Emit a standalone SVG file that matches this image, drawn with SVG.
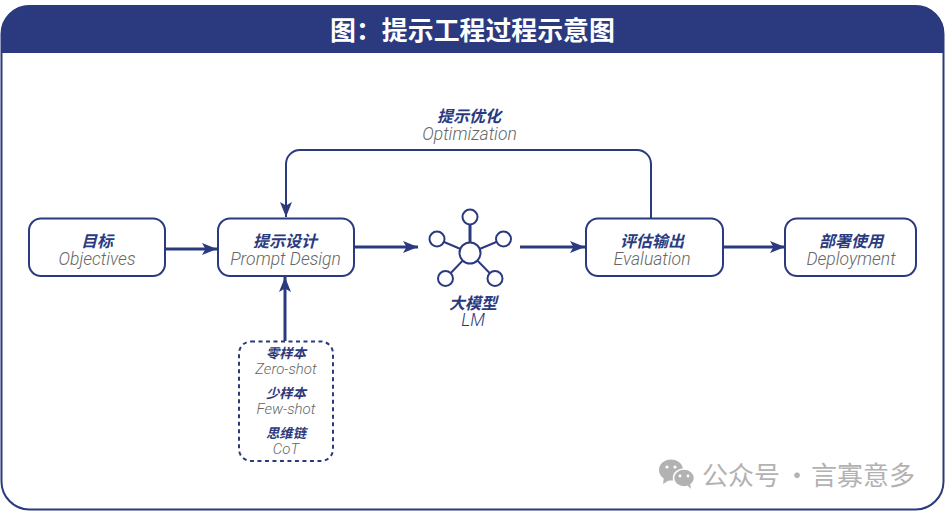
<svg xmlns="http://www.w3.org/2000/svg" width="946" height="513" viewBox="0 0 946 513">
<style>
.box{fill:#fff;stroke:#2b3a7e;stroke-width:2}
.zh{font-family:"Noto Sans CJK SC","Noto Sans CJK JP",sans-serif;font-weight:700;font-style:italic;fill:#2b3a7e;text-anchor:middle}
.en{font-family:Roboto,"Liberation Sans",sans-serif;font-weight:300;font-style:italic;fill:#666;text-anchor:middle}
.z1{font-size:16px}.e1{font-size:17.500px}.z2{font-size:13.300px}.e2{font-size:15px}
.line{fill:none;stroke:#2b3a7e}
.n{fill:#fff;stroke:#2b3a7e;stroke-width:2}
.wm{font-family:"Noto Sans CJK SC",sans-serif;font-size:26px;fill:#b2b2b2}
</style>
<defs>
<marker id="a" markerUnits="userSpaceOnUse" markerWidth="16" markerHeight="16" refX="15" refY="8" orient="auto"><path d="M0 2L15 8L0 14L3.500 8Z" fill="#2b3a7e"/></marker>
</defs>
<rect width="946" height="513" fill="#fff"/>
<g id="frame">
<rect x="1.500" y="6" width="942" height="503.500" rx="28" fill="#fff" stroke="#2b3a7e" stroke-width="2"/>
<path d="M1 53V34A28 28 0 0 1 29 5.500H916A28 28 0 0 1 944 34V53Z" fill="#2b3a7e"/>
<text x="472.500" y="40" text-anchor="middle" font-family="'Noto Sans CJK SC',sans-serif" font-weight="700" font-size="25.900" fill="#fff">图：提示工程过程示意图</text>
</g>
<g id="connectors">
<path class="line" stroke-width="3" marker-end="url(#a)" d="M165 249H217"/>
<path class="line" stroke-width="3" marker-end="url(#a)" d="M354 247H418"/>
<path class="line" stroke-width="3" marker-end="url(#a)" d="M520 247H585"/>
<path class="line" stroke-width="3" marker-end="url(#a)" d="M723 247H785"/>
<path class="line" stroke-width="3" marker-end="url(#a)" d="M285 341V277"/>
<path class="line" stroke-width="2" marker-end="url(#a)" d="M651 218V164A14 14 0 0 0 637 150H300A14 14 0 0 0 286 164V217"/>
</g>
<g id="label-optimization">
<text class="zh z1" x="469" y="122">提示优化</text>
<text class="en e1" x="469.500" y="140">Optimization</text>
</g>
<g id="node-objectives">
<rect class="box" x="29" y="218.500" width="136" height="57.500" rx="12"/>
<text class="zh z1" x="97" y="246.500">目标</text>
<text class="en e1" x="97" y="264.500">Objectives</text>
</g>
<g id="node-prompt">
<rect class="box" x="218" y="218.500" width="136" height="57.500" rx="12"/>
<text class="zh z1" x="285" y="246.500">提示设计</text>
<text class="en e1" x="285.500" y="264.500">Prompt Design</text>
</g>
<g id="node-llm">
<path class="line" stroke-width="2" d="M470 217V253M437 239L470 253M503.500 239L470 253M445.500 278.500L470 253M495 278.500L470 253"/>
<path class="line" stroke-width="3" d="M470 225V242"/>
<circle class="n" cx="470" cy="253" r="10.500"/>
<circle class="n" cx="470" cy="217" r="7.500"/>
<circle class="n" cx="437" cy="239" r="7.500"/>
<circle class="n" cx="503.500" cy="239" r="7.500"/>
<circle class="n" cx="445.500" cy="278.500" r="7.500"/>
<circle class="n" cx="495" cy="278.500" r="7.500"/>
<text class="zh z1" x="473" y="309">大模型</text>
<text class="en e1" x="473" y="326" style="fill:#2b3a7e">LM</text>
</g>
<g id="node-evaluation">
<rect class="box" x="586" y="218.500" width="137" height="57.500" rx="12"/>
<text class="zh z1" x="652" y="246.500">评估输出</text>
<text class="en e1" x="652" y="264.500">Evaluation</text>
</g>
<g id="node-deployment">
<rect class="box" x="785" y="218.500" width="131" height="57.500" rx="12"/>
<text class="zh z1" x="851" y="246.500">部署使用</text>
<text class="en e1" x="851" y="264.500">Deployment</text>
</g>
<g id="node-techniques">
<rect x="239" y="341.500" width="94" height="119.500" rx="12" fill="#fff" stroke="#2b3a7e" stroke-width="2" stroke-dasharray="4 3.500"/>
<text class="zh z2" x="286" y="358">零样本</text>
<text class="en e2" x="286" y="373.500">Zero-shot</text>
<text class="zh z2" x="286" y="398">少样本</text>
<text class="en e2" x="286" y="413.500">Few-shot</text>
<text class="zh z2" x="286" y="438">思维链</text>
<text class="en e2" x="286" y="453.500">CoT</text>
</g>
<g id="watermark">
<ellipse cx="671" cy="470" rx="12" ry="10.500" fill="#b2b2b2"/>
<path d="M664 477L663 484L671 479Z" fill="#b2b2b2"/>
<ellipse cx="684" cy="478" rx="10.500" ry="9" fill="#b2b2b2" stroke="#fff" stroke-width="1.500"/>
<path d="M687 485L691 489L690 483Z" fill="#b2b2b2"/>
<circle cx="667" cy="467" r="1.600" fill="#fff"/><circle cx="675" cy="467" r="1.600" fill="#fff"/>
<circle cx="680" cy="476" r="1.400" fill="#fff"/><circle cx="688" cy="476" r="1.400" fill="#fff"/>
<text class="wm" y="484.500"><tspan x="702">公众号</tspan><tspan x="784">·</tspan><tspan x="811">言寡意多</tspan></text>
</g>
</svg>
